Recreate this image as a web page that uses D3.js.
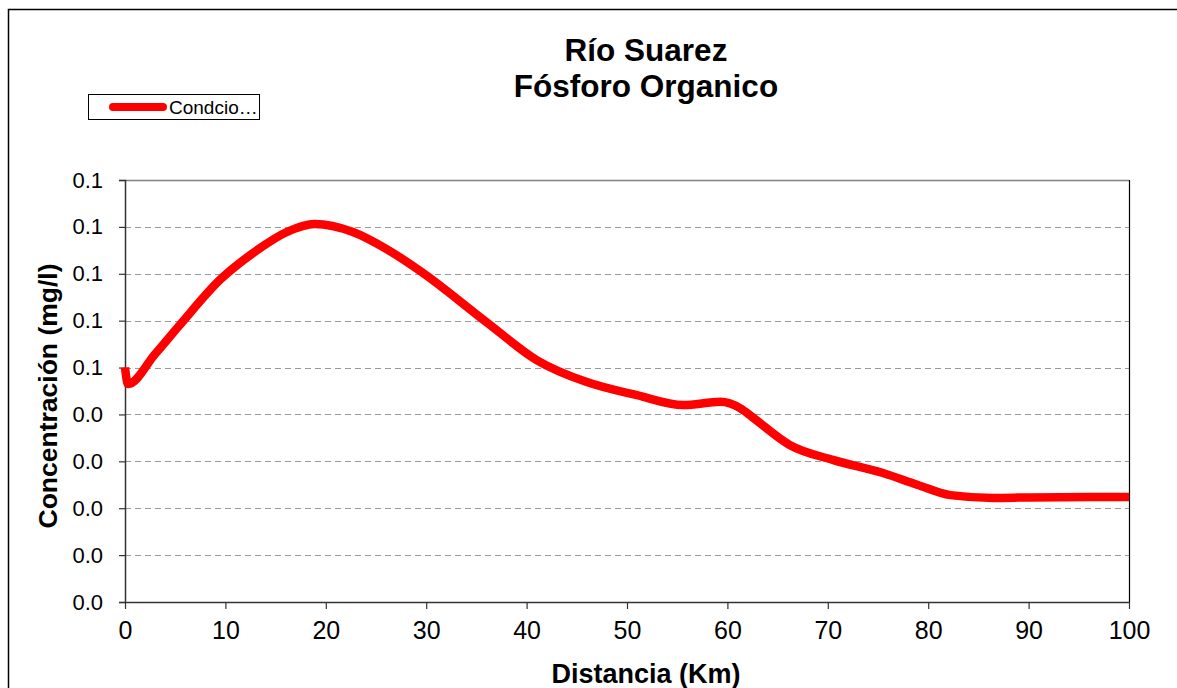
<!DOCTYPE html>
<html><head><meta charset="utf-8">
<script src="https://cdn.jsdelivr.net/npm/d3@7"></script>
<style>body{margin:0;background:#fff}svg{display:block;font-family:"Liberation Sans",Arial,sans-serif}</style>
</head><body>
<svg id="c" width="1177" height="688"></svg>
<script>
const distanceKm = [0, 0.3, 3, 5.5, 9.5, 12.8, 16.1, 18.9, 22.7, 26.1, 29.4, 36, 41, 46, 51, 55.6, 59.3, 61.3, 62.5, 66.2, 70.5, 75.5, 78.9, 82.2, 86.5, 90, 100];
const concentration = [0.050, 0.0465, 0.0529, 0.0592, 0.0688, 0.0745, 0.0789, 0.0806, 0.0789, 0.0752, 0.0706, 0.0597, 0.0516, 0.0469, 0.0441, 0.0420, 0.0427, 0.0413, 0.0394, 0.0335, 0.0303, 0.0275, 0.0250, 0.0228, 0.0222, 0.0223, 0.0224];
const yTickValues = [0, 0.01, 0.02, 0.03, 0.04, 0.05, 0.06, 0.07, 0.08, 0.09];
const yTickLabels = ["0.0", "0.0", "0.0", "0.0", "0.0", "0.1", "0.1", "0.1", "0.1", "0.1"];
const xTickValues = [0, 10, 20, 30, 40, 50, 60, 70, 80, 90, 100];
const seriesName = "Condcio…";

const svg = d3.select("#c");
const L = 125, R = 1129, T = 180, B = 602;
const x = d3.scaleLinear().domain([0, 100]).range([L, R]);
const y = d3.scaleLinear().domain([0, 0.09]).range([B, T]);
const FF = "Liberation Sans, Arial, sans-serif";

// outer frame
svg.append("rect").attr("x", 8.5).attr("y", 9.5).attr("width", 1200).attr("height", 700)
  .attr("fill", "none").attr("stroke", "#000").attr("stroke-width", 1.5);

// gridlines
svg.append("g").selectAll("line").data(yTickValues.slice(1, -1)).join("line")
  .attr("x1", L).attr("x2", R).attr("y1", d => Math.round(y(d)) + 0.5).attr("y2", d => Math.round(y(d)) + 0.5)
  .attr("stroke", "#999").attr("stroke-dasharray", "6,4").attr("stroke-width", 1);

// top & right borders
svg.append("line").attr("x1", L).attr("x2", R).attr("y1", T + 0.5).attr("y2", T + 0.5).attr("stroke", "#808080").attr("stroke-width", 1.5);
svg.append("line").attr("x1", R + 0.5).attr("x2", R + 0.5).attr("y1", T).attr("y2", B).attr("stroke", "#000").attr("stroke-width", 1.2);

// axes
const yAxis = d3.axisLeft(y).tickValues(yTickValues).tickFormat((d, i) => yTickLabels[i]).tickSize(6).tickPadding(16);
const gy = svg.append("g").attr("transform", `translate(${L},0)`).call(yAxis);
gy.select(".domain").attr("stroke", "#333").attr("stroke-width", 1.5);
gy.selectAll(".tick line").attr("stroke", "#333").attr("stroke-width", 1.2);
gy.selectAll("text").attr("font-size", 22).attr("fill", "#000").attr("font-family", FF);

const xAxis = d3.axisBottom(x).tickValues(xTickValues).tickFormat(d3.format("d")).tickSize(7).tickPadding(12).tickSizeOuter(0);
const gx = svg.append("g").attr("transform", `translate(0,${B})`).call(xAxis);
gx.select(".domain").attr("stroke", "#333").attr("stroke-width", 1.5);
gx.selectAll(".tick line").attr("stroke", "#333").attr("stroke-width", 1.2);
gx.selectAll("text").attr("font-size", 25).attr("fill", "#000").attr("font-family", FF);

// line
const pts = distanceKm.map((d, i) => [d, concentration[i]]);
svg.append("path").datum(pts)
  .attr("d", d3.line().x(d => x(d[0])).y(d => y(d[1])).curve(d3.curveMonotoneX))
  .attr("fill", "none").attr("stroke", "#ff0000").attr("stroke-width", 8.5).attr("stroke-linejoin", "round");

// titles
svg.append("text").attr("x", 646).attr("y", 61).attr("text-anchor", "middle").attr("font-size", 31.5).attr("font-weight", "bold").text("Río Suarez");
svg.append("text").attr("x", 646).attr("y", 97).attr("text-anchor", "middle").attr("font-size", 31.5).attr("font-weight", "bold").text("Fósforo Organico");
svg.append("text").attr("x", 646).attr("y", 683).attr("text-anchor", "middle").attr("font-size", 27).attr("font-weight", "bold").text("Distancia (Km)");
svg.append("text").attr("transform", "translate(57,396) rotate(-90)").attr("text-anchor", "middle").attr("font-size", 26.5).attr("font-weight", "bold").text("Concentración (mg/l)");

// legend
svg.append("rect").attr("x", 88.5).attr("y", 94.5).attr("width", 171).attr("height", 25).attr("fill", "#fff").attr("stroke", "#000").attr("stroke-width", 1);
svg.append("line").attr("x1", 113).attr("x2", 163).attr("y1", 107).attr("y2", 107).attr("stroke", "#ff0000").attr("stroke-width", 8).attr("stroke-linecap", "round");
svg.append("text").attr("x", 169).attr("y", 114).attr("font-size", 19).text(seriesName);
</script>
</body></html>
